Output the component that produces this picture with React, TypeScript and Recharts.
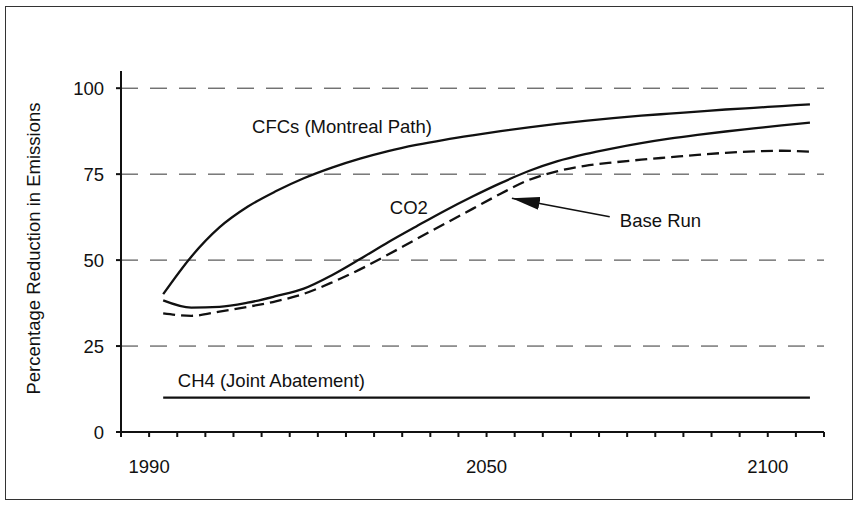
import {
  Line,
  LineChart,
  ReferenceDot,
  ReferenceLine,
  XAxis,
  YAxis,
} from "recharts";

// five-year points
const years = [
  1992.5, 1997.5, 2002.5, 2007.5, 2012.5, 2017.5, 2022.5, 2027.5, 2032.5,
  2037.5, 2042.5, 2047.5, 2052.5, 2057.5, 2062.5, 2067.5, 2072.5, 2077.5,
  2082.5, 2087.5, 2092.5, 2097.5, 2102.5, 2107.5,
];
const cfcs = [
  40.1, 51, 59.5, 65.5, 70, 73.8, 76.9, 79.5, 81.7, 83.5, 85, 86.3, 87.5, 88.6,
  89.6, 90.5, 91.3, 92, 92.6, 93.2, 93.8, 94.3, 94.8, 95.3,
];
const co2 = [
  38.3, 36.2, 36.4, 37.6, 39.5, 41.7, 45.6, 50.3, 55.2, 59.8, 64.3, 68.5,
  72.4, 75.9, 78.7, 80.8, 82.5, 84, 85.3, 86.4, 87.4, 88.3, 89.2, 90,
];
const baseRun = [
  34.5, 33.8, 35, 36.4, 38, 40.2, 43.5, 47.3, 51.6, 56.1, 60.5, 64.9, 69.3,
  73.3, 75.8, 77.4, 78.4, 79.2, 79.9, 80.6, 81.2, 81.6, 81.8, 81.5,
];
const ch4 = [
  10, 10, 10, 10, 10, 10, 10, 10, 10, 10, 10, 10, 10, 10, 10, 10, 10, 10, 10,
  10, 10, 10, 10, 10,
];

const xTicks = [
  1985, 1990, 1995, 2000, 2005, 2010, 2015, 2020, 2025, 2030, 2035, 2040, 2045,
  2050, 2055, 2060, 2065, 2070, 2075, 2080, 2085, 2090, 2095, 2100, 2105, 2110,
];
const xLabelYears = [1990, 2050, 2100];
const yTicks = [0, 25, 50, 75, 100];
const gridValues = [25, 50, 75, 100];

const data = years.map((year, i) => ({
  year,
  cfcs: cfcs[i],
  co2: co2[i],
  baseRun: baseRun[i],
  ch4: ch4[i],
}));

const ink = "#111";
const fontSize = 18.5;

function YTitle({ viewBox }: any) {
  const x = viewBox.x + 40;
  const y = viewBox.y + viewBox.height / 2 - 3;
  return (
    <text
      x={x}
      y={y}
      transform={`rotate(-90 ${x} ${y})`}
      textAnchor="middle"
      fontSize={fontSize}
      fill={ink}
    >
      Percentage Reduction in Emissions
    </text>
  );
}

export default function App() {
  const textStyle = { fontSize, fill: ink };

  return (
    <div
      style={{
        position: "absolute",
        left: 0,
        top: 0,
        width: 854,
        height: 506,
        background: "#fff",
        fontFamily: "'Liberation Sans', Arial, sans-serif",
      }}
    >
      {/* scanned frame */}
      <div
        style={{
          position: "absolute",
          left: 5,
          top: 6,
          width: 848,
          height: 494,
          boxSizing: "border-box",
          border: "1.5px solid #333",
        }}
      />
      <LineChart
        width={854}
        height={506}
        data={data}
        margin={{ top: 71, right: 30, left: 0, bottom: 0 }}
        style={{ position: "absolute", left: 0, top: 0 }}
      >
        <defs>
          <marker
            id="arrowHead"
            markerWidth={28}
            markerHeight={13}
            refX={28}
            refY={6.5}
            orient="auto"
            markerUnits="userSpaceOnUse"
          >
            <path d="M0,0 L28,6.5 L0,13 Z" fill={ink} />
          </marker>
        </defs>
        {gridValues.map((v) => (
          <ReferenceLine
            key={v}
            y={v}
            stroke="#333"
            strokeWidth={1}
            strokeDasharray="17 12"
          />
        ))}
        <XAxis
          dataKey="year"
          type="number"
          domain={[1985, 2110]}
          ticks={xTicks}
          interval={0}
          height={74}
          stroke={ink}
          strokeWidth={2}
          tickSize={5}
          tickMargin={23}
          tick={textStyle}
          tickFormatter={(v: number) =>
            xLabelYears.includes(v) ? String(v) : ""
          }
        />
        <YAxis
          type="number"
          domain={[0, 105]}
          ticks={yTicks}
          interval={0}
          width={121}
          stroke={ink}
          strokeWidth={2}
          tickSize={5}
          tickMargin={12}
          tick={textStyle}
          label={{ content: (p: any) => <YTitle viewBox={p.viewBox} /> }}
        />
        <Line
          type="monotone"
          dataKey="cfcs"
          stroke={ink}
          strokeWidth={2.3}
          dot={false}
          isAnimationActive={false}
        />
        <Line
          type="monotone"
          dataKey="co2"
          stroke={ink}
          strokeWidth={2.3}
          dot={false}
          isAnimationActive={false}
        />
        <Line
          type="monotone"
          dataKey="baseRun"
          stroke={ink}
          strokeWidth={2.3}
          strokeDasharray="12 6"
          dot={false}
          isAnimationActive={false}
        />
        <Line
          type="linear"
          dataKey="ch4"
          stroke={ink}
          strokeWidth={2.3}
          dot={false}
          isAnimationActive={false}
        />
        <ReferenceLine
          segment={[
            { x: 2071.9, y: 62.6 },
            { x: 2054.5, y: 68 },
          ]}
          stroke={ink}
          strokeWidth={1.6}
          markerEnd="url(#arrowHead)"
        />
        <ReferenceDot
          x={2008.3}
          y={89}
          r={0}
          fill="none"
          stroke="none"
          label={{ value: "CFCs (Montreal Path)", position: "right", offset: 0, ...textStyle }}
        />
        <ReferenceDot
          x={2032.8}
          y={65.3}
          r={0}
          fill="none"
          stroke="none"
          label={{ value: "CO2", position: "right", offset: 0, ...textStyle }}
        />
        <ReferenceDot
          x={2073.7}
          y={61.6}
          r={0}
          fill="none"
          stroke="none"
          label={{ value: "Base Run", position: "right", offset: 0, ...textStyle }}
        />
        <ReferenceDot
          x={1995.1}
          y={15.1}
          r={0}
          fill="none"
          stroke="none"
          label={{ value: "CH4 (Joint Abatement)", position: "right", offset: 0, ...textStyle }}
        />
      </LineChart>
    </div>
  );
}
